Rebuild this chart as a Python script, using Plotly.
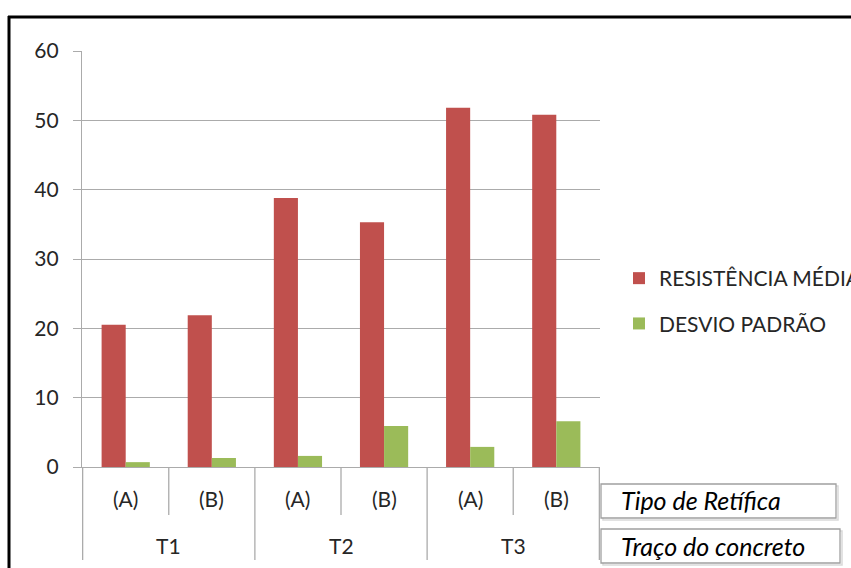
import plotly.graph_objects as go

# ---- data ----
tracos = ["T1", "T1", "T2", "T2", "T3", "T3"]
retificas = ["(A)", "(B)", "(A)", "(B)", "(A)", "(B)"]
resistencia_media = [20.5, 21.9, 38.8, 35.3, 51.8, 50.8]
desvio_padrao = [0.7, 1.3, 1.6, 5.9, 2.9, 6.6]
series_names = ["RESISTÊNCIA MÉDIA", "DESVIO PADRÃO"]
level_titles = ["Tipo de Retífica", "Traço do concreto"]
y_ticks = [0, 10, 20, 30, 40, 50, 60]

# ---- layout helpers ----
W, H = 851, 568
L, R, T, B = 82, 251, 51, 101
PW, PH = W - L - R, H - T - B


def px(x):
    return (x - L) / PW


def py(y):
    return (H - B - y) / PH


FONT = "Lato, 'Open Sans', sans-serif"
TXT = "#262626"
GRID = "#ababab"

labels = [f"{t} {r}" for t, r in zip(tracos, retificas)]

fig = go.Figure()
fig.add_bar(x=labels, y=resistencia_media, name=series_names[0],
            marker=dict(color="#C0504D", line=dict(width=0)), legendgroup="a")
fig.add_bar(x=labels, y=desvio_padrao, name=series_names[1],
            marker=dict(color="#9BBB59", line=dict(width=0)), legendgroup="b")

shapes = []
annotations = []

# category dividers
n = len(labels)
for i in range(n + 1):
    xb = i - 0.5
    outer = (i == 0 or i == n or tracos[i] != tracos[i - 1])
    y_end = py(560) if outer else py(515)
    shapes.append(dict(type="line", xref="x", yref="paper", x0=xb, x1=xb,
                       y0=0, y1=y_end, line=dict(color=GRID, width=1.3)))

# inner labels
for i, r in enumerate(retificas):
    annotations.append(dict(x=i, xref="x", y=py(498), yref="paper", text=r,
                            showarrow=False, font=dict(family=FONT, size=21, color=TXT),
                            xanchor="center", yanchor="middle"))
# outer labels
groups = []
for i, t in enumerate(tracos):
    if not groups or groups[-1][0] != t:
        groups.append([t, i, i])
    else:
        groups[-1][2] = i
for t, a, b in groups:
    annotations.append(dict(x=(a + b) / 2, xref="x", y=py(545), yref="paper", text=t,
                            showarrow=False, font=dict(family=FONT, size=21, color=TXT),
                            xanchor="center", yanchor="middle"))

# level title boxes
boxes = [(601, 484, 836, 518, 500), (601, 529, 840, 563, 546)]
for (x0, y0, x1, y1, yc), title in zip(boxes, level_titles):
    shapes.append(dict(type="rect", xref="paper", yref="paper",
                       x0=px(x0 + 2), x1=px(x1 + 2), y0=py(y0 + 2), y1=py(y1 + 2),
                       line=dict(color="#d9d9d9", width=1.5), fillcolor="rgba(0,0,0,0)", layer="below"))
    shapes.append(dict(type="rect", xref="paper", yref="paper",
                       x0=px(x0), x1=px(x1), y0=py(y0), y1=py(y1),
                       line=dict(color="#a0a0a0", width=1.3), fillcolor="white"))
    annotations.append(dict(x=px(619), xref="paper", y=py(yc), yref="paper", text=f"<i>{title}</i>",
                            showarrow=False, font=dict(family=FONT, size=25, color="#000000"),
                            xanchor="left", yanchor="middle"))

# chart frame (top and left border)
shapes.append(dict(type="line", xref="paper", yref="paper", x0=px(8), x1=px(860),
                   y0=py(17), y1=py(17), line=dict(color="#000000", width=3)))
shapes.append(dict(type="line", xref="paper", yref="paper", x0=px(9), x1=px(9),
                   y0=py(16), y1=py(575), line=dict(color="#000000", width=3)))

fig.update_layout(
    width=W, height=H,
    margin=dict(l=L, r=R, t=T, b=B, pad=0, autoexpand=False),
    paper_bgcolor="white", plot_bgcolor="white",
    barmode="group", bargap=0.44, bargroupgap=0.0,
    showlegend=True,
    legend=dict(x=px(619), y=py(258), xanchor="left", yanchor="top",
                font=dict(family=FONT, size=21, color=TXT),
                tracegroupgap=15, bgcolor="rgba(0,0,0,0)"),
    shapes=shapes, annotations=annotations,
    xaxis=dict(type="category", showticklabels=False, showgrid=False,
               showline=True, linecolor=GRID, linewidth=1.3, zeroline=False, ticks=""),
    yaxis=dict(range=[0, 60], tickvals=y_ticks, showgrid=True, gridcolor=GRID, gridwidth=1.3,
               showline=True, linecolor=GRID, linewidth=1.3, zeroline=False,
               ticks="outside", ticklen=8, tickcolor=GRID, tickwidth=1.3,
               tickfont=dict(family=FONT, size=21, color=TXT), ticklabelstandoff=10),
)

fig.write_html("out.html")
